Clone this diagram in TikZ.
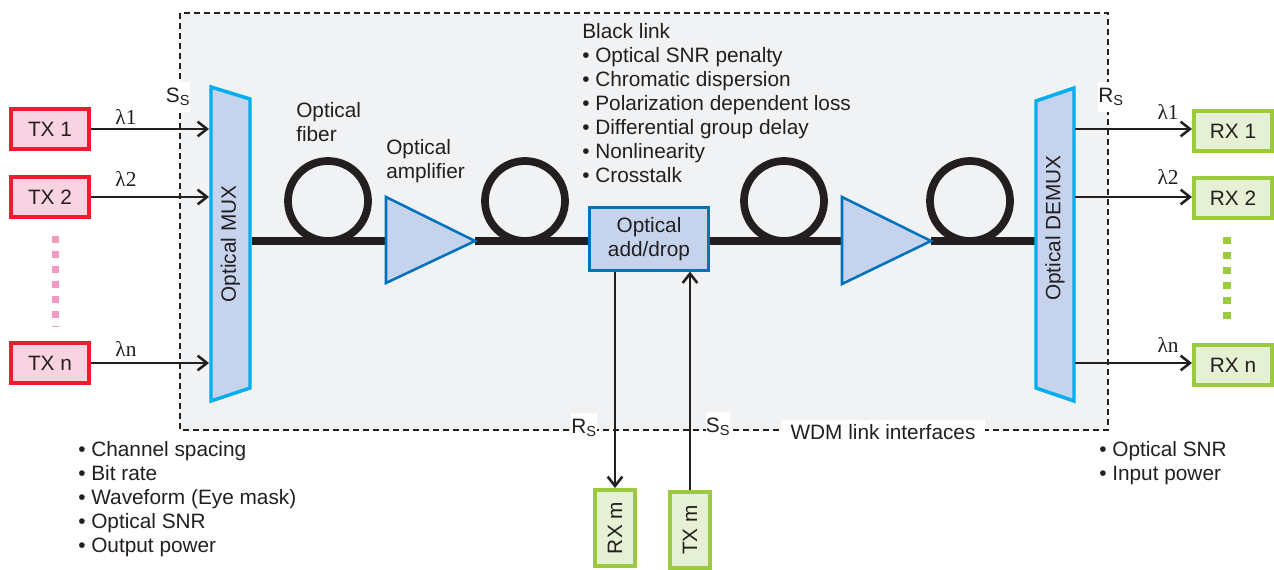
\documentclass[tikz,border=0pt]{standalone}
\usepackage{fontspec}
\setmainfont{Liberation Sans}
\newfontfamily\lamfont{Liberation Serif}
\usetikzlibrary{arrows.meta}
\definecolor{inkc}{HTML}{231F20}
\definecolor{linkc}{HTML}{F1F2F4}
\definecolor{redc}{HTML}{ED1C2E}
\definecolor{pinkc}{HTML}{F9D3E1}
\definecolor{dotpink}{HTML}{F49AC1}
\definecolor{greenc}{HTML}{9BCB3C}
\definecolor{palegreen}{HTML}{E6F0D5}
\definecolor{bluec}{HTML}{0072BC}
\definecolor{cyanc}{HTML}{00AEEF}
\definecolor{paleblue}{HTML}{C5D3EC}
\tikzset{
  every node/.style={font=\fontsize{15.6}{18}\selectfont, text=inkc},
  txbox/.style={draw=redc, fill=pinkc, line width=3pt, minimum width=58.5pt, minimum height=30pt, inner sep=0pt},
  rxbox/.style={draw=greenc, fill=palegreen, line width=3pt, minimum width=58.5pt, minimum height=30pt, inner sep=0pt},
  rxvert/.style={draw=greenc, fill=palegreen, line width=3pt, minimum width=57pt, minimum height=30pt, inner sep=0pt, rotate=90},
  muxbox/.style={draw=cyanc, fill=paleblue, line width=2.6pt, line join=miter},
  ampbox/.style={draw=bluec, fill=paleblue, line width=1.9pt, line join=miter},
  adbox/.style={draw=bluec, fill=paleblue, line width=1.9pt, minimum width=89pt, minimum height=47pt, inner sep=0pt, align=center},
  sig/.style={draw=inkc, line width=1.9pt, -{Straight Barb[length=7pt,width=11pt,line width=1.9pt]}},
  fiber/.style={draw=inkc, line width=5.8pt},
  patch/.style={fill=white, inner sep=0pt, minimum width=17pt, minimum height=22pt},
  txt/.style={anchor=north west, inner sep=0pt, align=left},
  lam/.style={font=\fontsize{16}{18}\lamfont},
}
\newcommand{\subS}[1]{#1\textsubscript{S}}
\begin{document}
\begin{tikzpicture}[x=0.75pt,y=0.75pt,yscale=-1,xscale=1]
    \useasboundingbox (0,0) rectangle (1274,570);

    \draw [fill=linkc, draw=inkc, line width=1.7pt, dash pattern=on 4.5pt off 3pt] (180,13) rectangle (1108,430);

    \draw (178,97) node (ssleft) [patch] {\subS{S}};
    \draw (1111,97) node (rsright) [patch] {\subS{R}};
    \draw (584,428) node (rsbottom) [patch] {\subS{R}};
    \draw (718,427) node (ssbottom) [patch] {\subS{S}};
    \draw (883,432) node (wdmlabel) [fill=white, inner sep=0pt, minimum width=153pt, minimum height=18pt] {WDM link interfaces};

    \coordinate (muxin) at (209,129);
    \coordinate (muxout) at (252,241);
    \coordinate (demuxin) at (1035,241);
    \coordinate (demuxout) at (1075,129);
    \coordinate (amp1in) at (386,241);
    \coordinate (amp1out) at (475,241);
    \coordinate (amp2in) at (842,241);
    \coordinate (amp2out) at (931,241);

    \draw (50,129) node (tx1) [txbox] {TX 1};
    \draw (50,197) node (tx2) [txbox] {TX 2};
    \draw (50,363) node (txn) [txbox] {TX n};
    \draw (1233,131) node (rx1) [rxbox] {RX 1};
    \draw (1233,198) node (rx2) [rxbox] {RX 2};
    \draw (1233,365) node (rxn) [rxbox] {RX n};
    \draw (615,528) node (rxm) [rxvert] {RX m};
    \draw (690,530) node (txm) [rxvert] {TX m};
    \draw (649,239) node (adddrop) [adbox] {Optical\\add/drop};

    \draw [fiber] (muxout) -- (amp1in);
    \draw [fiber] (amp1out) -- (amp1out -| adddrop.west);
    \draw [fiber] (amp1out -| adddrop.east) -- (amp2in);
    \draw [fiber] (amp2out) -- (demuxin);
    \draw [fiber] (328,201) circle (40);
    \draw [fiber] (525,201) circle (40);
    \draw [fiber] (784,201) circle (40);
    \draw [fiber] (970,201) circle (40);

    \draw [muxbox] (211,87) -- (250,99) -- (250,388) -- (211,401) -- cycle;
    \draw [muxbox] (1036,101) -- (1074,88) -- (1074,401) -- (1036,388) -- cycle;
    \draw (230.5,244) node (mux) [rotate=90] {Optical MUX};
    \draw (1055,228) node (demux) [rotate=90] {Optical DEMUX};

    \draw [ampbox] (386,197) -- (amp1out) -- (386,283) -- cycle;
    \draw [ampbox] (842,197) -- (amp2out) -- (842,284) -- cycle;
    \draw (649,239) node (adddrop) [adbox] {Optical\\add/drop};

    \draw [sig] (tx1.east) -- (muxin);
    \draw [sig] (tx2.east) -- (muxin |- tx2.east);
    \draw [sig] (txn.east) -- (muxin |- txn.east);
    \draw [sig] (demuxout) -- (rx1.west |- demuxout);
    \draw [sig] (demuxout |- tx2.east) -- (rx2.west |- tx2.east);
    \draw [sig] (demuxout |- txn.east) -- (rxn.west |- txn.east);
    \draw [sig] (adddrop.south -| rxm) -- (rxm.east);
    \draw [sig] (txm.east) -- (adddrop.south -| txm);

    \draw [draw=dotpink, line width=5.6pt, dash pattern=on 5.6pt off 5.65pt] (55.5,236) -- (55.5,327);
    \draw [draw=greenc, line width=5.6pt, dash pattern=on 5.6pt off 5.65pt] (1227,237) -- (1227,322);

    \draw (126,117) node (l1left) [lam] {λ1};
    \draw (126,179) node (l2left) [lam] {λ2};
    \draw (126,349) node (lnleft) [lam] {λn};
    \draw (1168,112) node (l1right) [lam] {λ1};
    \draw (1168,177) node (l2right) [lam] {λ2};
    \draw (1168,345) node (lnright) [lam] {λn};

    \draw (296,102) node (fiberlabel) [txt] {Optical\\fiber};
    \draw (386,139) node (amplabel) [txt] {Optical\\amplifier};
    \draw (582,23) node (blacklink) [txt] {Black link\\• Optical SNR penalty\\• Chromatic dispersion\\• Polarization dependent loss\\• Differential group delay\\• Nonlinearity\\• Crosstalk};
    \draw (78,441) node (txspec) [txt] {• Channel spacing\\• Bit rate\\• Waveform (Eye mask)\\• Optical SNR\\• Output power};
    \draw (1099,441) node (rxspec) [txt] {• Optical SNR\\• Input power};
\end{tikzpicture}
\end{document}
